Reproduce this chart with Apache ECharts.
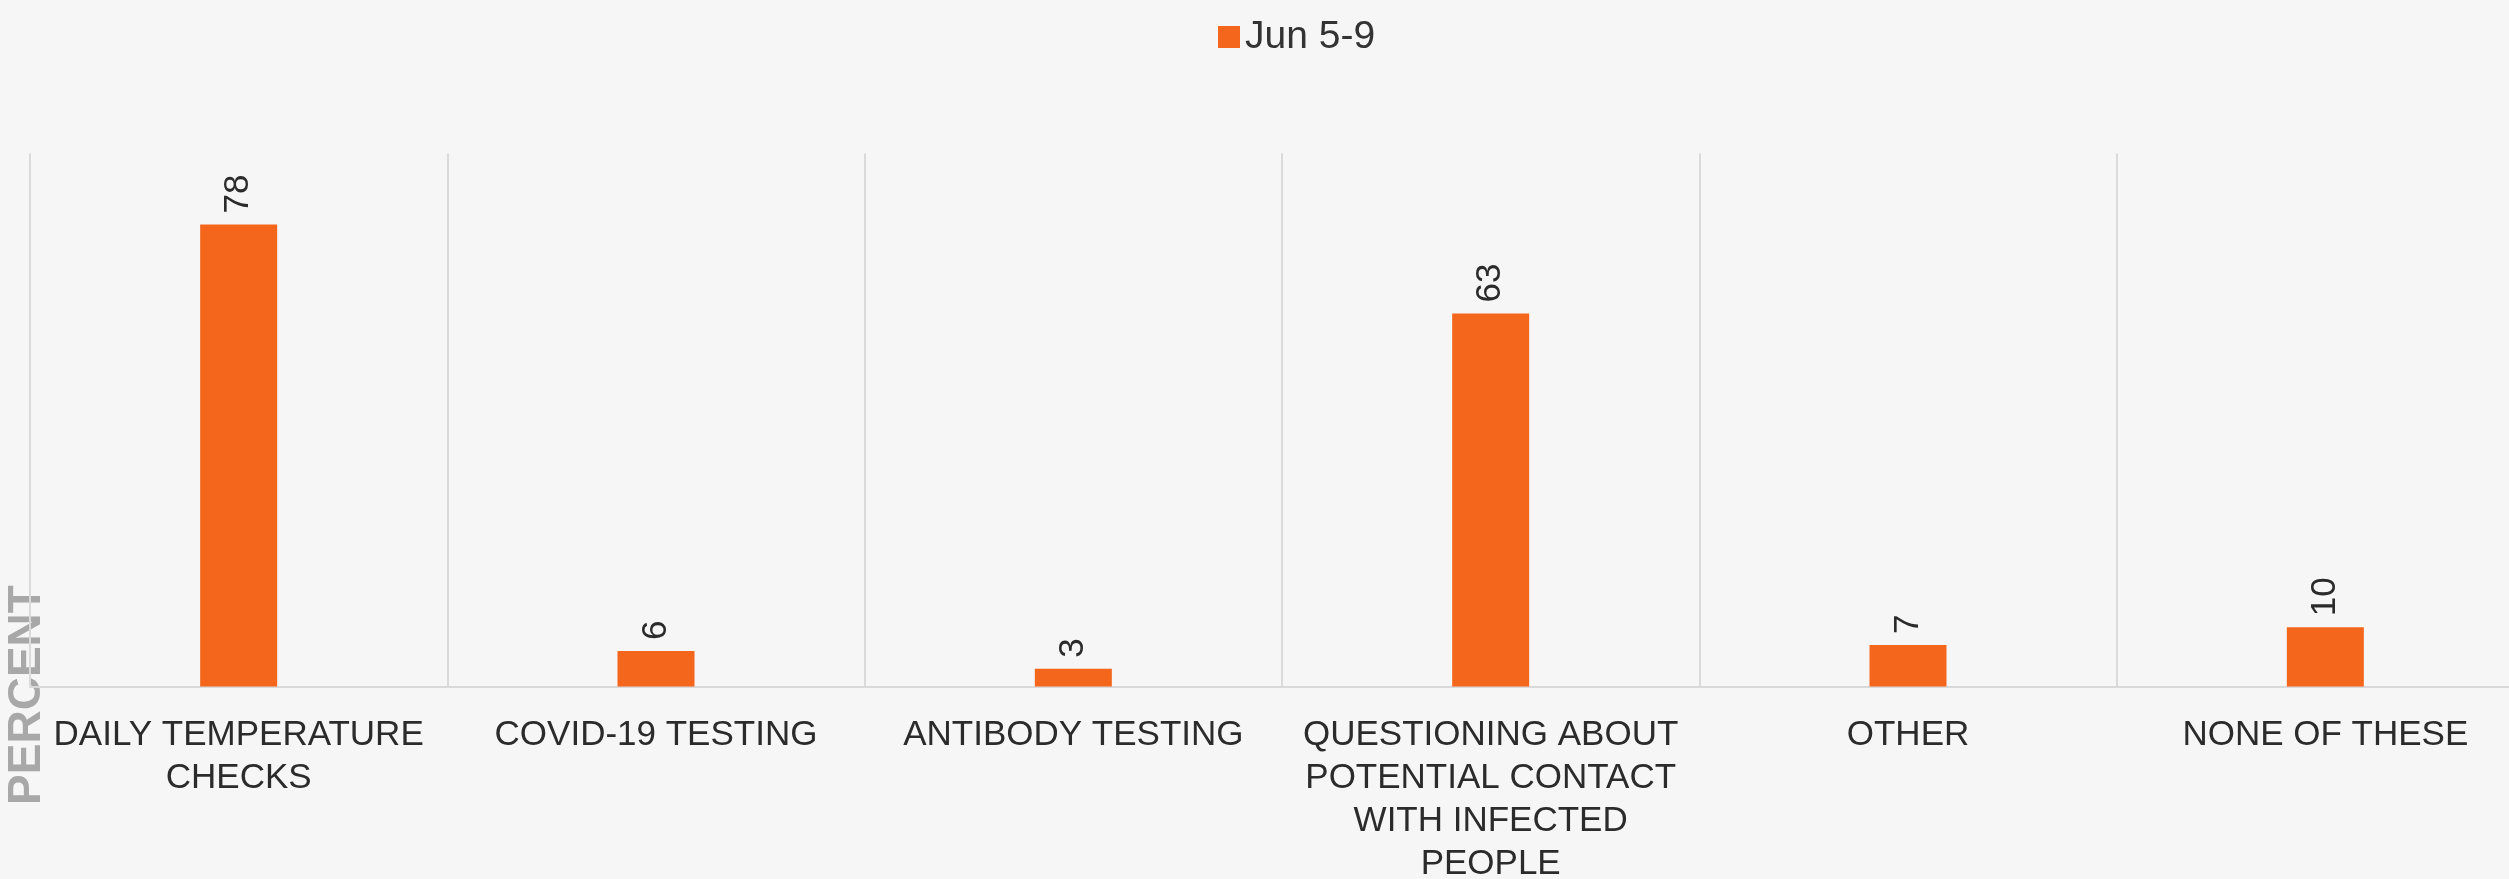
<!DOCTYPE html>
<html lang="en" style="height: 100%">
<head>
  <meta charset="utf-8">
</head>
<body style="height: 100%; margin: 0">
  <div id="container" style="height: 100%"></div>

  <script type="text/javascript" src="https://fastly.jsdelivr.net/npm/echarts@6/dist/echarts.min.js"></script>

  <script type="text/javascript">
    var categories = [
      'DAILY TEMPERATURE\nCHECKS',
      'COVID-19 TESTING',
      'ANTIBODY TESTING',
      'QUESTIONING ABOUT\nPOTENTIAL CONTACT\nWITH INFECTED\nPEOPLE',
      'OTHER',
      'NONE OF THESE'
    ];
    var seriesName = 'Jun 5-9';
    var values = [78, 6, 3, 63, 7, 10];
    var axisName = 'PERCENT';

    var font = '"Liberation Sans", Arial, sans-serif';

    var dom = document.getElementById('container');
    var myChart = echarts.init(dom, null, {
      renderer: 'canvas',
      useDirtyRect: false
    });
    var option;

    option = {
      backgroundColor: '#f6f6f6',
      animation: false,
      legend: {
        data: [seriesName],
        left: 1213,
        top: 11,
        icon: 'rect',
        itemWidth: 22,
        itemHeight: 22,
        textStyle: {
          fontFamily: font,
          fontSize: 39,
          lineHeight: 42,
          color: '#333'
        }
      },
      graphic: [
        {
          type: 'text',
          x: 27,
          y: 695,
          rotation: Math.PI / 2,
          style: {
            text: axisName,
            fontFamily: font,
            fontSize: 46,
            fontWeight: 'bold',
            fill: '#a8a8a8',
            align: 'center',
            verticalAlign: 'middle'
          }
        }
      ],
      // the plot runs past the right edge of the picture
      grid: {
        left: 30,
        width: 2504,
        top: 153.5,
        bottom: 192.5,
        outerBoundsMode: 'none'
      },
      xAxis: {
        type: 'category',
        data: categories,
        axisTick: { show: false },
        axisLine: {
          lineStyle: { color: '#d9d9d9', width: 2 }
        },
        splitLine: {
          show: true,
          interval: 0,
          lineStyle: { color: '#dadada', width: 2 }
        },
        axisLabel: {
          interval: 0,
          margin: 27,
          fontFamily: font,
          fontSize: 35,
          lineHeight: 43,
          color: '#2b2b2b'
        }
      },
      yAxis: {
        type: 'value',
        min: 0,
        max: 90,
        axisLabel: { show: false },
        axisLine: { show: false },
        axisTick: { show: false },
        splitLine: { show: false }
      },
      series: [
        {
          name: seriesName,
          type: 'bar',
          data: values,
          barWidth: 77,
          itemStyle: { color: '#f4661b' },
          label: {
            show: true,
            position: 'top',
            rotate: 90,
            align: 'left',
            verticalAlign: 'middle',
            distance: 11,
            fontFamily: font,
            fontSize: 35,
            color: '#2b2b2b'
          }
        }
      ]
    };

    if (option && typeof option === 'object') {
      myChart.setOption(option);
    }

    window.addEventListener('resize', myChart.resize);
  </script>
</body>
</html>
